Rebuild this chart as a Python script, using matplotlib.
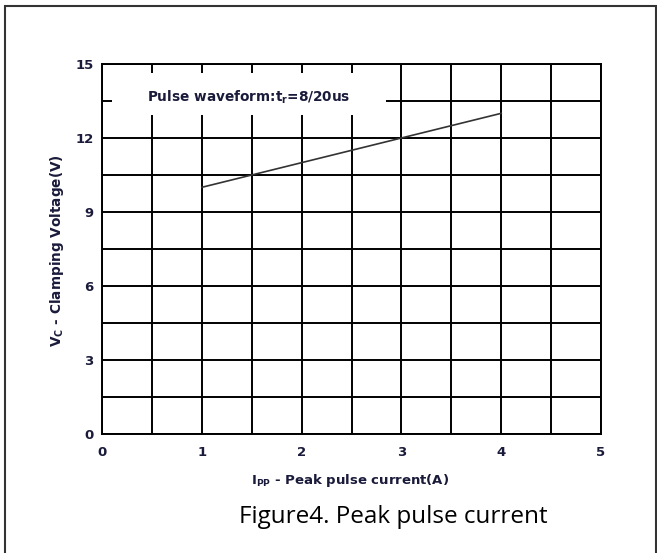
import matplotlib
matplotlib.use("Agg")
import matplotlib.pyplot as plt
from matplotlib.patches import Rectangle
import numpy as np

# data
ipp = [1, 4]
vc = [10, 13]
xticks = [0, 1, 2, 3, 4, 5]
yticks = [0, 3, 6, 9, 12, 15]

ink = "#1a1a3a"
fnt = "DejaVu Sans"

fig = plt.figure(figsize=(6.57, 5.53), dpi=100)
ax = fig.add_axes([0.1553, 0.2152, 0.7595, 0.6691])

ax.set_xlim(0, 5)
ax.set_ylim(0, 15)
ax.set_xticks(xticks)
ax.set_yticks(yticks)
ax.set_xticks(np.arange(0, 5.01, 0.5), minor=True)
ax.set_yticks(np.arange(0, 15.01, 1.5), minor=True)
ax.grid(which="both", color="black", lw=1.4, zorder=1)
ax.set_axisbelow(True)
for s in ax.spines.values():
    s.set_linewidth(1.4)
ax.tick_params(which="both", length=0, labelsize=9.5, colors=ink)
ax.tick_params(axis="x", pad=9)
ax.tick_params(axis="y", pad=6)
for lab in ax.get_xticklabels() + ax.get_yticklabels():
    lab.set_fontweight("bold")
    lab.set_family(fnt)

# white box behind the annotation
ax.add_patch(Rectangle((0.1, 12.92), 2.75, 1.71, facecolor="white",
                       edgecolor="none", zorder=2))
ax.text(0.45, 13.64, r"Pulse waveform:t$_\mathregular{r}$=8/20us", fontsize=9.8,
        fontweight="bold", family=fnt, va="center", color=ink, zorder=3)

ax.plot(ipp, vc, color="#333333", lw=1.2, zorder=4)

ax.set_xlabel(r"I$_\mathregular{PP}$ - Peak pulse current(A)", fontsize=9.5,
              fontweight="bold", family=fnt, color=ink)
ax.set_ylabel(r"V$_\mathregular{C}$ - Clamping Voltage(V)", fontsize=9.8,
              fontweight="bold", family=fnt, color=ink)
ax.xaxis.set_label_coords(0.497, -0.104)
ax.yaxis.set_label_coords(-0.072, 0.495)

fig.text(0.598, 0.065, "Figure4. Peak pulse current", fontsize=17.5,
         family="Open Sans", ha="center", va="center")

# outer frame
fig.add_artist(Rectangle((0.008, -0.01), 0.99, 1.0, transform=fig.transFigure,
                         fill=False, edgecolor="#333333", lw=1.5))

fig.savefig("out.png", dpi=100)
